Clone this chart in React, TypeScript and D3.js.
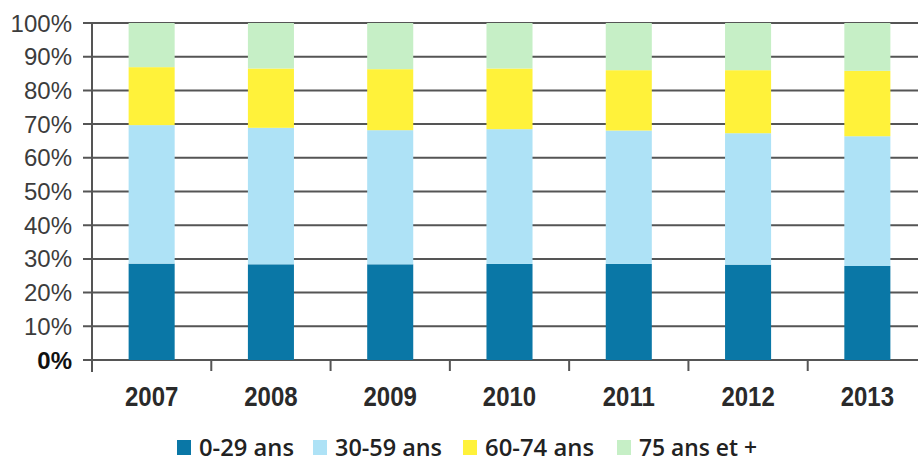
import React from "react";
import * as d3 from "d3";

const years = ["2007", "2008", "2009", "2010", "2011", "2012", "2013"];
const seriesNames = ["0-29 ans", "30-59 ans", "60-74 ans", "75 ans et +"];
const age0_29 = [28.6, 28.4, 28.4, 28.5, 28.5, 28.3, 27.9];
const age30_59 = [41.1, 40.5, 39.8, 40.0, 39.6, 39.0, 38.5];
const age60_74 = [17.2, 17.6, 18.1, 18.0, 17.9, 18.7, 19.4];
const age75plus = [13.1, 13.5, 13.7, 13.5, 14.0, 14.0, 14.2];
const yTicks = [0, 10, 20, 30, 40, 50, 60, 70, 80, 90, 100];

const colors = ["#0a77a6", "#aee2f6", "#fff23a", "#c6efc6"];
const legendMarkerX = [177, 313, 463, 617];
const legendTextWidth = [95, 107, 109, 118];

const W = 918;
const H = 463;

export default function App() {
  const x = d3
    .scaleBand<string>()
    .domain(years)
    .range([92, 927])
    .paddingInner(0.614)
    .paddingOuter(0.307);
  const y = d3.scaleLinear().domain([0, 100]).range([360, 23]);

  const seriesData = [age0_29, age30_59, age60_74, age75plus];
  const rows = years.map((yr, i) => {
    const r: any = { year: yr };
    seriesNames.forEach((s, k) => (r[s] = seriesData[k][i]));
    return r;
  });
  const stack = d3.stack<any>().keys(seriesNames);
  const stacked = stack(rows);

  const step = x.step();
  const boundaries = years.map((_, i) => 92 + step * (i + 1));

  return (
    <svg
      width={W}
      height={H}
      style={{ position: "fixed", left: 0, top: 0, background: "#fff" }}
    >
      <rect x={0} y={0} width={W} height={H} fill="#fff" />
      {yTicks.map((t) => (
        <line
          key={t}
          x1={83}
          x2={W}
          y1={y(t)}
          y2={y(t)}
          stroke="#555"
          strokeWidth={2}
        />
      ))}
      {stacked.map((layer, k) => (
        <g key={layer.key} fill={colors[k]}>
          {layer.map((d, i) => (
            <rect
              key={i}
              x={x(years[i])}
              width={x.bandwidth()}
              y={y(d[1])}
              height={y(d[0]) - y(d[1])}
            />
          ))}
        </g>
      ))}
      <line x1={92} x2={92} y1={y(100)} y2={372} stroke="#555" strokeWidth={2} />
      {boundaries.map((bx, i) => (
        <line
          key={i}
          x1={bx}
          x2={bx}
          y1={y(0)}
          y2={371}
          stroke="#555"
          strokeWidth={2}
        />
      ))}
      {yTicks.map((t) => (
        <text
          key={t}
          x={72}
          y={y(t) + 8.5}
          textAnchor="end"
          fontFamily="Liberation Sans, Arial, sans-serif"
          fontSize={24}
          fontWeight={t === 0 ? "bold" : "normal"}
          fill={t === 0 ? "#111" : "#3c3c3c"}
        >
          {t}%
        </text>
      ))}
      {years.map((yr) => (
        <text
          key={yr}
          transform={`translate(${(x(yr) as number) + x.bandwidth() / 2},406) scale(1,1.18)`}
          textAnchor="middle"
          fontFamily="Liberation Sans, Arial, sans-serif"
          fontSize={24}
          fontWeight="bold"
          fill="#2a2a2a"
        >
          {yr}
        </text>
      ))}
      {seriesNames.map((s, k) => (
        <g key={s}>
          <rect
            x={legendMarkerX[k]}
            y={440}
            width={14}
            height={15}
            fill={colors[k]}
          />
          <text
            x={legendMarkerX[k] + 22}
            y={456}
            fontFamily="Open Sans, sans-serif"
            fontSize={24}
            fontWeight={600}
            fill="#222"
            textLength={legendTextWidth[k]}
            lengthAdjust="spacingAndGlyphs"
          >
            {s}
          </text>
        </g>
      ))}
    </svg>
  );
}
